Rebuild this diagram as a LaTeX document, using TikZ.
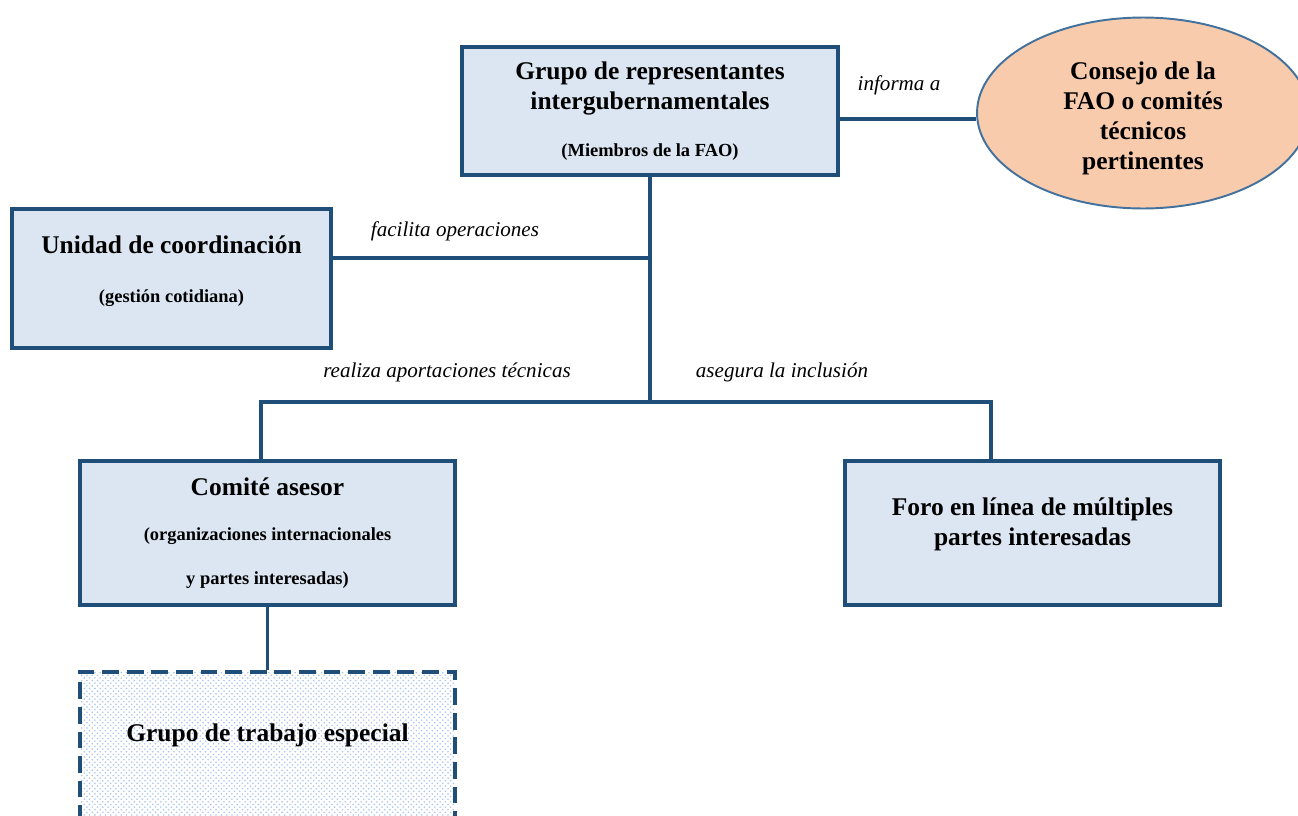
\documentclass[tikz,border=0pt]{standalone}
\usepackage{fontspec}
\setmainfont{Liberation Serif}
\usepackage{xcolor}
\usepackage{tikz}
\usetikzlibrary{shapes.geometric,patterns}

\definecolor{boxline}{HTML}{1F4E79}
\definecolor{boxfill}{HTML}{DCE6F2}
\definecolor{ovalfill}{HTML}{F8CBAD}
\definecolor{ovalline}{HTML}{41719C}
\definecolor{dotblue}{HTML}{A8C4EC}

\newcommand{\subtext}{\fontsize{10.5}{13}\selectfont}

\tikzset{
  orgbox/.style={draw=boxline, line width=1.8pt, fill=boxfill, align=center,
    font=\fontsize{14.5}{17}\selectfont\bfseries, inner sep=2pt,
    minimum width=7.5cm, minimum height=2.88cm},
  taskbox/.style={orgbox, fill=none, dash pattern=on 9.5pt off 4.5pt,
    pattern=crosshatch dots, pattern color=dotblue},
  council/.style={ellipse, draw=ovalline, line width=1.1pt, fill=ovalfill, align=center,
    font=\fontsize{14.5}{17}\selectfont\bfseries, inner sep=0pt,
    minimum width=6.64cm, minimum height=3.82cm},
  link/.style={draw=boxline, line width=1.8pt},
  linklabel/.style={font=\fontsize{12}{14}\selectfont\itshape}
}

\begin{document}
\begin{tikzpicture}[x=0.02cm, y=-0.02cm]
\useasboundingbox (0,0) rectangle (1298,815);

% boxes
\node[orgbox, minimum width=7.52cm, minimum height=2.56cm] (grupo) at (650,111)
  {Grupo de representantes\\ intergubernamentales\\[10pt]{\subtext (Miembros de la FAO)}};
\node[council] (consejo) at (1143,113)
  {\rule{0pt}{16pt}Consejo de la\\ FAO o comités\\ técnicos\\ pertinentes};
\node[orgbox, minimum width=6.38cm, minimum height=2.78cm] (unidad) at (171.5,278.5)
  {Unidad de coordinación\\[11pt]{\subtext (gestión cotidiana)\rule[-11pt]{0pt}{0pt}}};
\node[orgbox] (comite) at (267.5,533)
  {Comité asesor\\[9pt]{\subtext (organizaciones internacionales}\\[8pt]{\subtext y partes interesadas)}};
\node[orgbox] (foro) at (1032.5,533)
  {Foro en línea de múltiples\\ partes interesadas\rule[-12.5pt]{0pt}{0pt}};
\node[taskbox, minimum height=3.0cm] (especial) at (267.5,747)
  {Grupo de trabajo especial\rule[-16pt]{0pt}{0pt}};

% connectors
\coordinate (trunk) at (650,258);
\coordinate (bar) at (650,402);
\coordinate (barL) at (261,402);
\coordinate (barR) at (991,402);

\draw[link] (grupo.east |- 0,119) -- (consejo.west |- 0,119);
\draw[link] (grupo.south) -- (bar);
\draw[link] (trunk -| unidad.east) -- (trunk);
\draw[link] (barL |- comite.north) -- (barL) -- (barR) -- (barR |- foro.north);
\draw[link] (comite.south) -- (especial.north);

% labels
\node[linklabel] (lblinforma) at (899,85) {informa a};
\node[linklabel] (lblfacilita) at (455,231) {facilita operaciones};
\node[linklabel] (lblrealiza) at (447,372) {realiza aportaciones técnicas};
\node[linklabel] (lblasegura) at (782,372) {asegura la inclusión};
\end{tikzpicture}
\end{document}
